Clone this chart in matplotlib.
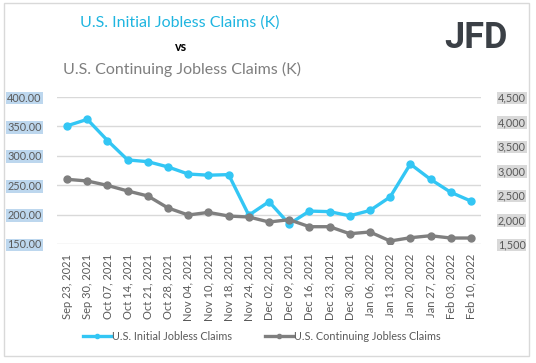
import matplotlib.pyplot as plt
from matplotlib.patches import Rectangle

dates = ["Sep 23, 2021", "Sep 30, 2021", "Oct 07, 2021", "Oct 14, 2021", "Oct 21, 2021",
         "Oct 28, 2021", "Nov 04, 2021", "Nov 10, 2021", "Nov 18, 2021", "Nov 24, 2021",
         "Dec 02, 2021", "Dec 09, 2021", "Dec 16, 2021", "Dec 23, 2021", "Dec 30, 2021",
         "Jan 06, 2022", "Jan 13, 2022", "Jan 20, 2022", "Jan 27, 2022", "Feb 03, 2022",
         "Feb 10, 2022"]
initial = [351, 362, 326, 293, 290, 281, 269, 267, 268, 199, 222, 184, 206, 205, 198,
           207, 230, 286, 260, 238, 223]
continuing = [2820, 2786, 2696, 2582, 2480, 2235, 2092, 2145, 2071, 2051, 1949, 1996,
              1853, 1853, 1710, 1745, 1561, 1628, 1669, 1622, 1622]
left_ticks = [150, 200, 250, 300, 350, 400]
right_ticks = [1500, 2000, 2500, 3000, 3500, 4000, 4500]

plt.rcParams['font.family'] = ['Lato', 'DejaVu Sans']

cyan = '#33c6f4'
grey = '#7f7f7f'
txt = '#595959'

fig = plt.figure(figsize=(5.36, 3.63), dpi=100)
fig.patches.append(Rectangle((4 / 536, 1 - 356 / 363), 525 / 536, 353 / 363,
                             transform=fig.transFigure, fill=False,
                             edgecolor='#d9d9d9', linewidth=1))

ax = fig.add_axes([57 / 536, 1 - 244 / 363, 424 / 536, 147 / 363])
ax2 = ax.twinx()
x = range(len(dates))

ax.plot(x, initial, color=cyan, lw=2.4, marker='o', ms=5, label='U.S. Initial Jobless Claims', zorder=3)
ax2.plot(x, continuing, color=grey, lw=2.4, marker='o', ms=5, label='U.S. Continuing Jobless Claims')

ax.set_ylim(150, 400)
ax2.set_ylim(1500, 4500)
ax.set_xlim(-0.5, len(dates) - 0.5)
ax.set_yticks(left_ticks)
ax.set_yticklabels([f"{v:.2f}" for v in left_ticks])
ax2.set_yticks(right_ticks)
ax2.set_yticklabels([f"{v:,}" for v in right_ticks])
ax.set_xticks(list(x))
ax.set_xticklabels(dates, rotation=90)
ax.grid(axis='y', color='#d9d9d9', lw=1)
ax.set_axisbelow(True)

for a in (ax, ax2):
    for s in a.spines.values():
        s.set_visible(False)
    a.tick_params(length=0, labelsize=7.8, colors=txt)
ax.tick_params(axis='y', pad=11)
ax.tick_params(axis='x', pad=7, labelsize=8)
ax2.tick_params(axis='y', pad=12)
for t in ax.get_yticklabels():
    t.set_bbox(dict(facecolor='#bdd7ee', edgecolor='none', pad=0.6))
for t in ax2.get_yticklabels():
    t.set_bbox(dict(facecolor='#d9d9d9', edgecolor='none', pad=0.6))

h1, l1 = ax.get_legend_handles_labels()
h2, l2 = ax2.get_legend_handles_labels()
fig.legend(h1 + h2, l1 + l2, loc='center', bbox_to_anchor=(262 / 536, 1 - 336 / 363),
           ncol=2, frameon=False, fontsize=7.8, labelcolor=txt, handlelength=2.6,
           handletextpad=0.1, columnspacing=3, markerscale=0.6)

fig.text(180 / 536, 1 - 23 / 363, "U.S. Initial Jobless Claims (K)", color='#1fb5e0',
         fontsize=11.5, ha='center', va='center')
fig.text(181 / 536, 1 - 47 / 363, "vs", color='black', fontsize=9, fontweight='bold',
         ha='center', va='center')
fig.text(182 / 536, 1 - 69 / 363, "U.S. Continuing Jobless Claims (K)", color=grey,
         fontsize=11.5, ha='center', va='center')
fig.text(476 / 536, 1 - 38 / 363, "JFD", color='#3b4046', fontsize=26,
         fontweight='bold', family='Roboto', ha='center', va='center')

fig.savefig('out.png', dpi=100)
